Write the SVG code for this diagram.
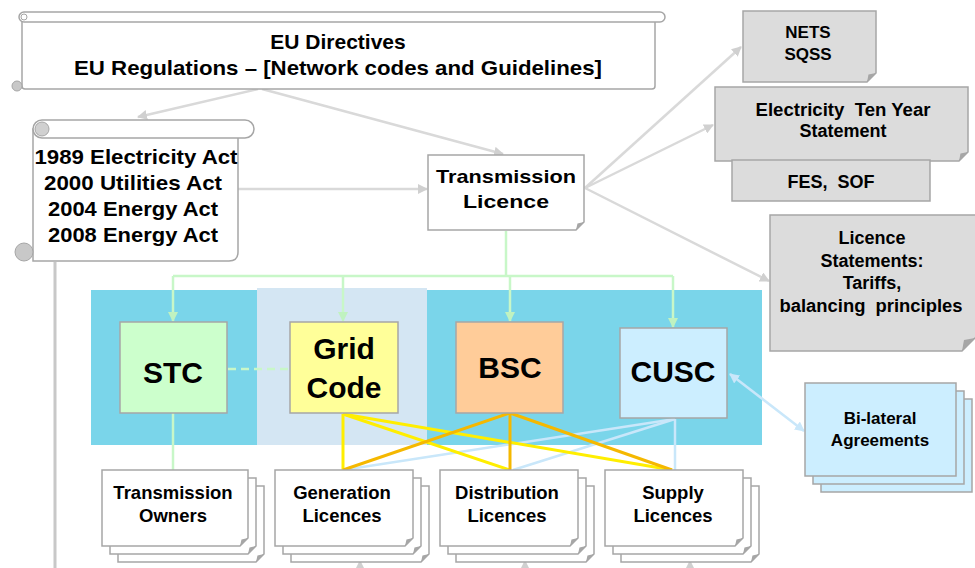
<svg xmlns="http://www.w3.org/2000/svg" xmlns:xlink="http://www.w3.org/1999/xlink" width="975" height="568" viewBox="0 0 975 568">
<style>
.t{font-family:"Liberation Sans",Arial,sans-serif;font-weight:bold;text-anchor:middle;fill:#000}
.box{stroke:#a6a6a6;stroke-width:1.5}
.fold{fill:#a6a6a6}
.gray{stroke:#d9d9d9;stroke-width:2.5;fill:none}
.grn{stroke:#c8f7c8;stroke-width:2.5;fill:none}
.yel{stroke:#ffee00;stroke-width:3;fill:none}
.org{stroke:#f5b800;stroke-width:3;fill:none}
.lb{stroke:#c9e7fa;stroke-width:2.5;fill:none}
</style>
<defs>
<marker id="ag" viewBox="0 0 10 10" refX="9" refY="5" markerWidth="10" markerHeight="10" markerUnits="userSpaceOnUse" orient="auto"><path d="M0,0 L10,5 L0,10 Z" fill="#d0d0d0"/></marker>
<marker id="agn" viewBox="0 0 10 10" refX="9" refY="5" markerWidth="10" markerHeight="10" markerUnits="userSpaceOnUse" orient="auto"><path d="M0,0 L10,5 L0,10 Z" fill="#c0f2c0"/></marker>
<marker id="alb" viewBox="0 0 10 10" refX="9" refY="5" markerWidth="10" markerHeight="10" markerUnits="userSpaceOnUse" orient="auto-start-reverse"><path d="M0,0 L10,5 L0,10 Z" fill="#c9e7fa"/></marker>
<g id="card138"><polygon class="box" fill="#fff" points="0,0 138,0 138,68 130,76 0,76"/><polygon class="fold" points="138,68 130,76 131.5,69.5"/></g>
<g id="card146"><polygon class="box" fill="#fff" points="0,0 146,0 146,68 138,76 0,76"/><polygon class="fold" points="146,68 138,76 139.5,69.5"/></g>
<g id="stack138"><use xlink:href="#card138" x="16" y="16"/><use xlink:href="#card138" x="8" y="8"/><use xlink:href="#card138"/></g>
<g id="card151"><rect class="box" fill="#cceeff" x="0" y="0" width="151" height="93"/></g>
</defs>

<!-- background panels -->
<g id="panels">
<rect x="91" y="290" width="671" height="155" fill="#7ad5ea"/>
<rect x="257" y="288" width="170" height="157" fill="#d4e6f3"/>
</g>

<!-- left vertical line -->
<line x1="55" y1="262" x2="55" y2="568" stroke="#c8c8c8" stroke-width="3"/>

<g id="connectors">
<line class="gray" x1="258" y1="89" x2="138" y2="117" marker-end="url(#ag)"/>
<line class="gray" x1="262" y1="89" x2="503" y2="154" marker-end="url(#ag)"/>
<line class="gray" x1="238" y1="189" x2="427" y2="189" marker-end="url(#ag)"/>
<line class="gray" x1="585" y1="188" x2="741" y2="47" marker-end="url(#ag)"/>
<line class="gray" x1="585" y1="188" x2="713" y2="125" marker-end="url(#ag)"/>
<line class="gray" x1="585" y1="188" x2="769" y2="281" marker-end="url(#ag)"/>
<line class="gray" x1="360" y1="568" x2="360" y2="561" marker-end="url(#ag)"/>
<line class="gray" x1="525" y1="568" x2="525" y2="561" marker-end="url(#ag)"/>
<line class="gray" x1="690" y1="568" x2="690" y2="561" marker-end="url(#ag)"/>
<polyline class="grn" points="506,231 506,276"/>
<line class="grn" x1="173" y1="276" x2="673" y2="276"/>
<line class="grn" x1="173" y1="276" x2="173" y2="321" marker-end="url(#agn)"/>
<line class="grn" x1="343" y1="276" x2="343" y2="321" marker-end="url(#agn)"/>
<line class="grn" x1="510" y1="276" x2="510" y2="321" marker-end="url(#agn)"/>
<line class="grn" x1="673" y1="276" x2="673" y2="327" marker-end="url(#agn)"/>
<line class="grn" x1="228" y1="369" x2="289" y2="369" stroke-dasharray="8,5" stroke-width="3"/>
<line class="grn" x1="173" y1="413" x2="173" y2="470"/>
<line class="lb" x1="675" y1="419" x2="343" y2="470"/>
<line class="lb" x1="675" y1="419" x2="513" y2="470"/>
<line class="lb" x1="675" y1="419" x2="675" y2="470"/>
<line class="yel" x1="343" y1="414" x2="343" y2="470"/>
<line class="yel" x1="343" y1="414" x2="510" y2="470"/>
<line class="yel" x1="343" y1="414" x2="672" y2="470"/>
<line class="org" x1="510" y1="413" x2="343" y2="470"/>
<line class="org" x1="510" y1="413" x2="510" y2="470"/>
<line class="org" x1="510" y1="413" x2="672" y2="470"/>
<line class="lb" x1="730" y1="374" x2="804" y2="431" marker-start="url(#alb)" marker-end="url(#alb)"/>
</g>

<g id="eu">
<rect class="box" fill="#fff" x="22" y="16" width="633" height="73" rx="3"/>
<rect class="box" fill="#fff" x="19" y="12" width="646" height="10" rx="5"/>
<circle cx="24" cy="17" r="3" fill="#fff" stroke="#a6a6a6" stroke-width="1"/>
<circle cx="17" cy="86" r="5" fill="#c8c8c8" stroke="#a6a6a6" stroke-width="1"/>
<text class="t" x="338" y="49" font-size="21">EU Directives</text>
<text class="t" x="338" y="75" font-size="21" textLength="528" lengthAdjust="spacingAndGlyphs">EU Regulations – [Network codes and Guidelines]</text>
</g>

<g id="acts">
<path class="box" fill="#fff" d="M33,129 H238 V252 Q238,261 229,261 H33 Z"/>
<rect class="box" fill="#fff" x="33" y="120" width="221" height="18" rx="9"/>
<circle cx="42" cy="129" r="7" fill="#d0d0d0" stroke="#a6a6a6" stroke-width="1"/>
<circle cx="24" cy="252" r="9" fill="#c8c8c8" stroke="#a6a6a6" stroke-width="1"/>
<text class="t" x="136" y="164" font-size="21" textLength="203" lengthAdjust="spacingAndGlyphs">1989 Electricity Act</text>
<text class="t" x="133" y="190" font-size="21" textLength="178" lengthAdjust="spacingAndGlyphs">2000 Utilities Act</text>
<text class="t" x="133" y="216" font-size="21" textLength="170" lengthAdjust="spacingAndGlyphs">2004 Energy Act</text>
<text class="t" x="133" y="242" font-size="21" textLength="170" lengthAdjust="spacingAndGlyphs">2008 Energy Act</text>
</g>

<g id="tl">
<polygon class="box" fill="#fff" points="428,155 584,155 584,222 576,230 428,230"/>
<polygon class="fold" points="584,222 576,230 577.5,223.5"/>
<text class="t" x="506" y="183" font-size="19" textLength="140" lengthAdjust="spacingAndGlyphs">Transmission</text>
<text class="t" x="506" y="208" font-size="19" textLength="86" lengthAdjust="spacingAndGlyphs">Licence</text>
</g>

<g id="nets">
<polygon class="box" fill="#dcdcdc" points="743,11 876,11 876,73 867,82 743,82"/>
<polygon class="fold" points="876,73 867,82 868.5,74.5"/>
<text class="t" x="808" y="38" font-size="17">NETS</text>
<text class="t" x="808" y="60" font-size="17">SQSS</text>
</g>

<g id="etys">
<polygon class="box" fill="#dcdcdc" points="715,87 968,87 968,152 959,161 715,161"/>
<polygon class="fold" points="968,152 959,161 960.5,153.5"/>
<text class="t" x="843" y="116" font-size="18" xml:space="preserve" textLength="175" lengthAdjust="spacingAndGlyphs">Electricity  Ten Year</text>
<text class="t" x="843" y="137" font-size="18">Statement</text>
</g>

<g id="fes">
<rect class="box" fill="#dcdcdc" x="732" y="160" width="198" height="41"/>
<text class="t" x="831" y="188" font-size="18" xml:space="preserve">FES,  SOF</text>
</g>

<g id="licst">
<polygon class="box" fill="#dcdcdc" points="770,215 980,215 980,333 962,351 770,351"/>
<polygon class="fold" points="975,338 962,351 964,340"/>
<text class="t" x="872" y="244" font-size="18">Licence</text>
<text class="t" x="872" y="267" font-size="18">Statements:</text>
<text class="t" x="872" y="289" font-size="18">Tariffs,</text>
<text class="t" x="871" y="312" font-size="18" xml:space="preserve" textLength="183" lengthAdjust="spacingAndGlyphs">balancing  principles</text>
</g>

<g id="stc">
<rect class="box" fill="#ccffcc" x="120" y="322" width="107" height="91"/>
<text class="t" x="173" y="383" font-size="30">STC</text>
</g>
<g id="grid">
<rect class="box" fill="#ffff99" x="290" y="322" width="108" height="91"/>
<text class="t" x="344" y="359" font-size="30">Grid</text>
<text class="t" x="344" y="398" font-size="30">Code</text>
</g>
<g id="bsc">
<rect class="box" fill="#ffcc99" x="456" y="322" width="107" height="91"/>
<text class="t" x="510" y="378" font-size="30">BSC</text>
</g>
<g id="cusc">
<rect class="box" fill="#cceeff" x="620" y="328" width="107" height="90"/>
<text class="t" x="673" y="382" font-size="30">CUSC</text>
</g>

<g id="bilateral">
<use xlink:href="#card151" x="821" y="399"/>
<use xlink:href="#card151" x="813" y="391"/>
<use xlink:href="#card151" x="805" y="383"/>
<text class="t" x="880" y="424" font-size="17">Bi-lateral</text>
<text class="t" x="880" y="446" font-size="17">Agreements</text>
</g>

<g id="owners">
<use xlink:href="#card146" x="118" y="486"/>
<use xlink:href="#card146" x="110" y="478"/>
<use xlink:href="#card146" x="102" y="470"/>
<text class="t" x="173" y="499" font-size="18.5">Transmission</text>
<text class="t" x="173" y="522" font-size="18.5">Owners</text>
</g>
<g id="generation">
<use xlink:href="#stack138" x="275" y="470"/>
<text class="t" x="342" y="499" font-size="18.5">Generation</text>
<text class="t" x="342" y="522" font-size="18.5">Licences</text>
</g>
<g id="distribution">
<use xlink:href="#stack138" x="440" y="470"/>
<text class="t" x="507" y="499" font-size="18.5">Distribution</text>
<text class="t" x="507" y="522" font-size="18.5">Licences</text>
</g>
<g id="supply">
<use xlink:href="#stack138" x="605" y="470"/>
<text class="t" x="673" y="499" font-size="18.5">Supply</text>
<text class="t" x="673" y="522" font-size="18.5">Licences</text>
</g>
</svg>
